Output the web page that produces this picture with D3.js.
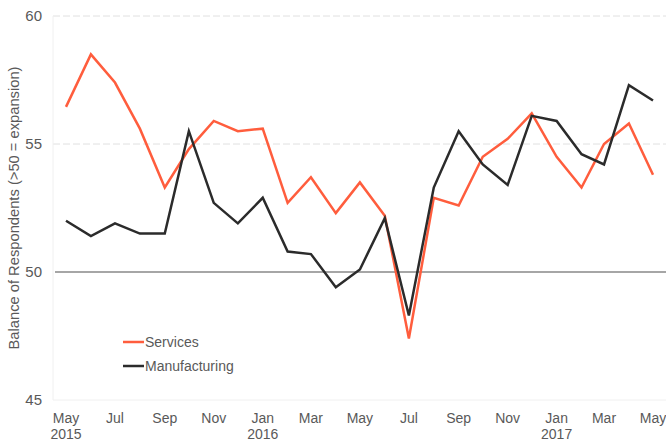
<!DOCTYPE html>
<html lang="en">
<head>
  <meta charset="UTF-8">
  <title>Services and Manufacturing balance</title>
  <script src="https://d3js.org/d3.v7.min.js"></script>
  <style>
    body { margin: 0; background: #fff; }
    text { font-family: "Liberation Sans", Arial, sans-serif; }
  </style>
</head>
<body>
<div id="chart"></div>
<script>

// months from May 2015 to May 2017
const months = ["2015-05","2015-06","2015-07","2015-08","2015-09","2015-10","2015-11","2015-12",
  "2016-01","2016-02","2016-03","2016-04","2016-05","2016-06","2016-07","2016-08","2016-09",
  "2016-10","2016-11","2016-12","2017-01","2017-02","2017-03","2017-04","2017-05"];

const services = [56.45, 58.5, 57.4, 55.6, 53.3, 54.8, 55.9, 55.5, 55.6, 52.7, 53.7, 52.3,
  53.5, 52.2, 47.4, 52.9, 52.6, 54.5, 55.2, 56.2, 54.5, 53.3, 55.0, 55.8, 53.8];

const manufacturing = [52.0, 51.4, 51.9, 51.5, 51.5, 55.5, 52.7, 51.9, 52.9, 50.8, 50.7, 49.4,
  50.1, 52.1, 48.3, 53.3, 55.5, 54.2, 53.4, 56.1, 55.9, 54.6, 54.2, 57.3, 56.7];

const yTicks = [45, 50, 55, 60];

const width = 666, height = 446;
const parse = d3.timeParse("%Y-%m");
const dates = months.map(parse);

const svg = d3.select("#chart").append("svg")
  .attr("width", width)
  .attr("height", height);

const x = d3.scaleTime()
  .domain(d3.extent(dates))
  .range([66, 653]);

const y = d3.scaleLinear()
  .domain([45, 60])
  .range([400, 16]);

// gridlines
svg.append("g")
  .selectAll("line")
  .data(yTicks)
  .join("line")
  .attr("x1", d => d === 50 ? 55 : 53)
  .attr("x2", 666)
  .attr("y1", d => y(d))
  .attr("y2", d => y(d))
  .attr("stroke", d => d === 50 ? "#a6a6a6" : (d === 45 ? "#f0f0f0" : "#e0e0e0"))
  .attr("stroke-width", d => d === 50 ? 2 : 1)
  .attr("stroke-dasharray", d => (d === 55 || d === 60) ? "7,3" : null);

// left axis line (very faint)
svg.append("line")
  .attr("x1", 53).attr("x2", 53)
  .attr("y1", 16).attr("y2", 400)
  .attr("stroke", "#f0f0f0");

// y tick labels
svg.append("g")
  .selectAll("text")
  .data(yTicks)
  .join("text")
  .attr("x", 42)
  .attr("y", d => y(d) + 5)
  .attr("text-anchor", "end")
  .attr("font-size", 15)
  .attr("fill", "#595959")
  .text(d => d);

// y axis title
svg.append("text")
  .attr("transform", "translate(19,208) rotate(-90)")
  .attr("text-anchor", "middle")
  .attr("font-size", 14)
  .attr("textLength", 283)
  .attr("lengthAdjust", "spacingAndGlyphs")
  .attr("fill", "#595959")
  .text("Balance of Respondents (>50 = expansion)");

// x tick labels every 2 months
const fmt = d3.timeFormat("%b");
const xTicks = dates.filter((d, i) => i % 2 === 0);
const xl = svg.append("g")
  .selectAll("text")
  .data(xTicks)
  .join("text")
  .attr("x", d => x(d))
  .attr("y", 423)
  .attr("text-anchor", "middle")
  .attr("font-size", 14)
  .attr("fill", "#595959");
xl.append("tspan").text(d => fmt(d));
xl.filter(d => d.getMonth() === 0 || +d === +dates[0])
  .append("tspan")
  .attr("x", d => x(d))
  .attr("dy", 16)
  .text(d => d.getFullYear());

// lines
const line = d3.line()
  .x((d, i) => x(dates[i]))
  .y(d => y(d));

svg.append("path")
  .datum(services)
  .attr("fill", "none")
  .attr("stroke", "#ff5d3d")
  .attr("stroke-width", 2.5)
  .attr("d", line);

svg.append("path")
  .datum(manufacturing)
  .attr("fill", "none")
  .attr("stroke", "#2b2b2b")
  .attr("stroke-width", 2.5)
  .attr("d", line);

// legend
const legend = [
  {name: "Services", color: "#ff5d3d", y: 342},
  {name: "Manufacturing", color: "#2b2b2b", y: 366}
];
const lg = svg.append("g")
  .selectAll("g")
  .data(legend)
  .join("g");
lg.append("line")
  .attr("x1", 123).attr("x2", 144)
  .attr("y1", d => d.y).attr("y2", d => d.y)
  .attr("stroke", d => d.color)
  .attr("stroke-width", 2.5);
lg.append("text")
  .attr("x", 145)
  .attr("y", d => d.y + 5)
  .attr("font-size", 14)
  .attr("fill", "#595959")
  .text(d => d.name);

</script>
</body>
</html>
